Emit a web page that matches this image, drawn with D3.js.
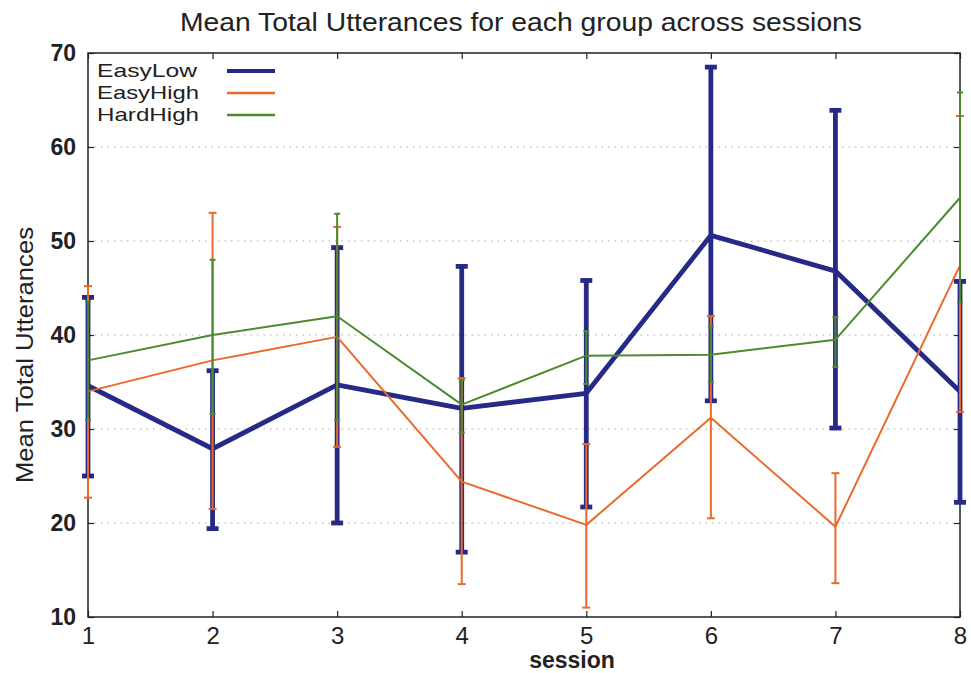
<!DOCTYPE html>
<html>
<head>
<meta charset="utf-8">
<script src="https://cdn.jsdelivr.net/npm/d3@7/dist/d3.min.js"></script>
<style>
  body { margin: 0; background: #fff; }
  svg { display: block; font-family: "Liberation Sans", Arial, sans-serif; }
</style>
</head>
<body>
<svg id="chart" width="971" height="673"></svg>
<script>
// ---- data ----
const sessions = [1, 2, 3, 4, 5, 6, 7, 8];
const yTicks = [10, 20, 30, 40, 50, 60, 70];

const easyLowMean  = [34.6, 27.9, 34.7, 32.2, 33.8, 50.6, 46.8, 34.0];
const easyLowUpper = [44.0, 36.2, 49.3, 47.3, 45.8, 68.5, 63.9, 45.7];
const easyLowLower = [25.0, 19.4, 20.0, 16.9, 21.7, 33.0, 30.1, 22.2];

const easyHighMean  = [34.0, 37.3, 39.8, 24.4, 19.8, 31.2, 19.6, 47.4];
const easyHighUpper = [45.2, 53.0, 51.5, 35.4, 28.4, 42.0, 25.3, 63.3];
const easyHighLower = [22.7, 21.5, 28.1, 13.5, 11.0, 20.5, 13.6, 31.8];

const hardHighMean  = [37.3, 40.0, 42.0, 32.6, 37.8, 37.9, 39.5, 54.6];
const hardHighUpper = [43.6, 48.0, 52.9, 35.2, 40.4, 40.9, 41.9, 65.8];
const hardHighLower = [31.0, 31.6, 30.9, 29.6, 34.8, 35.0, 36.6, 43.5];

const seriesNames = ['EasyLow', 'EasyHigh', 'HardHigh'];
// ----------------------------------

const svg = d3.select('#chart');
const M = { left: 88, right: 960, top: 53, bottom: 617 };

const x = d3.scaleLinear().domain([1, 8]).range([M.left, M.right]);
const y = d3.scaleLinear().domain([10, 70]).range([M.bottom, M.top]);

const series = [
  { name: seriesNames[0], mean: easyLowMean, up: easyLowUpper, lo: easyLowLower, color: '#262a86', width: 4.8, cap: 6, legW: 4 },
  { name: seriesNames[1], mean: easyHighMean, up: easyHighUpper, lo: easyHighLower, color: '#ea6a2a', width: 2, cap: 4, legW: 2.5 },
  { name: seriesNames[2], mean: hardHighMean, up: hardHighUpper, lo: hardHighLower, color: '#4b8b2e', width: 2, cap: 3, legW: 2.5 }
];

// dotted grid lines
svg.append('g')
  .selectAll('line')
  .data(yTicks.filter(t => t > 10 && t < 70))
  .enter().append('line')
  .attr('x1', M.left).attr('x2', M.right)
  .attr('y1', d => y(d)).attr('y2', d => y(d))
  .attr('stroke', '#aaa')
  .attr('stroke-width', 1.2)
  .attr('stroke-dasharray', '1.5,5');

// axes with inward ticks
const tickStyle = g => {
  g.select('.domain').remove();
  g.selectAll('line').attr('stroke', '#222').attr('stroke-width', 1.2);
};
svg.append('g')
  .attr('transform', `translate(0,${M.bottom})`)
  .call(d3.axisBottom(x).tickValues(sessions).tickSize(-6).tickPadding(10).tickFormat(d3.format('d')))
  .call(tickStyle)
  .selectAll('text')
  .attr('font-size', 24).attr('fill', '#222').attr('dy', '0.71em');
svg.append('g')
  .attr('transform', `translate(0,${M.top})`)
  .call(d3.axisTop(x).tickValues(sessions).tickSize(-6).tickFormat(''))
  .call(tickStyle);
svg.append('g')
  .attr('transform', `translate(${M.left},0)`)
  .call(d3.axisLeft(y).tickValues(yTicks).tickSize(-6).tickPadding(12))
  .call(tickStyle)
  .selectAll('text')
  .attr('font-size', 23).attr('font-weight', 'bold').attr('fill', '#222');
svg.append('g')
  .attr('transform', `translate(${M.right},0)`)
  .call(d3.axisRight(y).tickValues(yTicks).tickSize(-6).tickFormat(''))
  .call(tickStyle);

// frame
svg.append('rect')
  .attr('x', M.left).attr('y', M.top)
  .attr('width', M.right - M.left).attr('height', M.bottom - M.top)
  .attr('fill', 'none').attr('stroke', '#222').attr('stroke-width', 1.5);

// error bars + lines
const line = d3.line().x((d, i) => x(sessions[i])).y(d => y(d));

series.forEach(s => {
  const g = svg.append('g');
  const bars = g.selectAll('g.err').data(sessions).enter().append('g').attr('class', 'err');
  bars.append('line')
    .attr('x1', d => x(d)).attr('x2', d => x(d))
    .attr('y1', (d, i) => y(s.up[i])).attr('y2', (d, i) => y(s.lo[i]))
    .attr('stroke', s.color).attr('stroke-width', s.width);
  ['up', 'lo'].forEach(k => {
    bars.append('line')
      .attr('x1', d => x(d) - s.cap).attr('x2', d => x(d) + s.cap)
      .attr('y1', (d, i) => y(s[k][i])).attr('y2', (d, i) => y(s[k][i]))
      .attr('stroke', s.color).attr('stroke-width', s.width);
  });
  g.append('path')
    .datum(s.mean)
    .attr('d', line)
    .attr('fill', 'none')
    .attr('stroke', s.color)
    .attr('stroke-width', s.width)
    .attr('stroke-linejoin', 'round');
});

// legend
const legend = svg.append('g');
series.forEach((s, i) => {
  const ly = 71 + i * 22;
  legend.append('text')
    .attr('x', 97).attr('y', ly + 6)
    .attr('font-size', 19).attr('fill', '#222')
    .attr('textLength', i === 0 ? 100 : 102).attr('lengthAdjust', 'spacingAndGlyphs')
    .text(s.name);
  legend.append('line')
    .attr('x1', 227).attr('x2', 275)
    .attr('y1', ly).attr('y2', ly)
    .attr('stroke', s.color).attr('stroke-width', s.legW);
});

// titles
svg.append('text')
  .attr('x', 521).attr('y', 31)
  .attr('text-anchor', 'middle')
  .attr('font-size', 25).attr('fill', '#222')
  .attr('textLength', 682).attr('lengthAdjust', 'spacingAndGlyphs')
  .text('Mean Total Utterances for each group across sessions');
svg.append('text')
  .attr('x', (M.left + M.right) / 2 + 48).attr('y', 668)
  .attr('text-anchor', 'middle')
  .attr('font-size', 23).attr('font-weight', 'bold').attr('fill', '#222')
  .text('session');
svg.append('text')
  .attr('transform', `translate(33,${(M.top + M.bottom) / 2 + 20}) rotate(-90)`)
  .attr('text-anchor', 'middle')
  .attr('font-size', 24).attr('fill', '#222')
  .attr('textLength', 256).attr('lengthAdjust', 'spacingAndGlyphs')
  .text('Mean Total Utterances');
</script>
</body>
</html>
